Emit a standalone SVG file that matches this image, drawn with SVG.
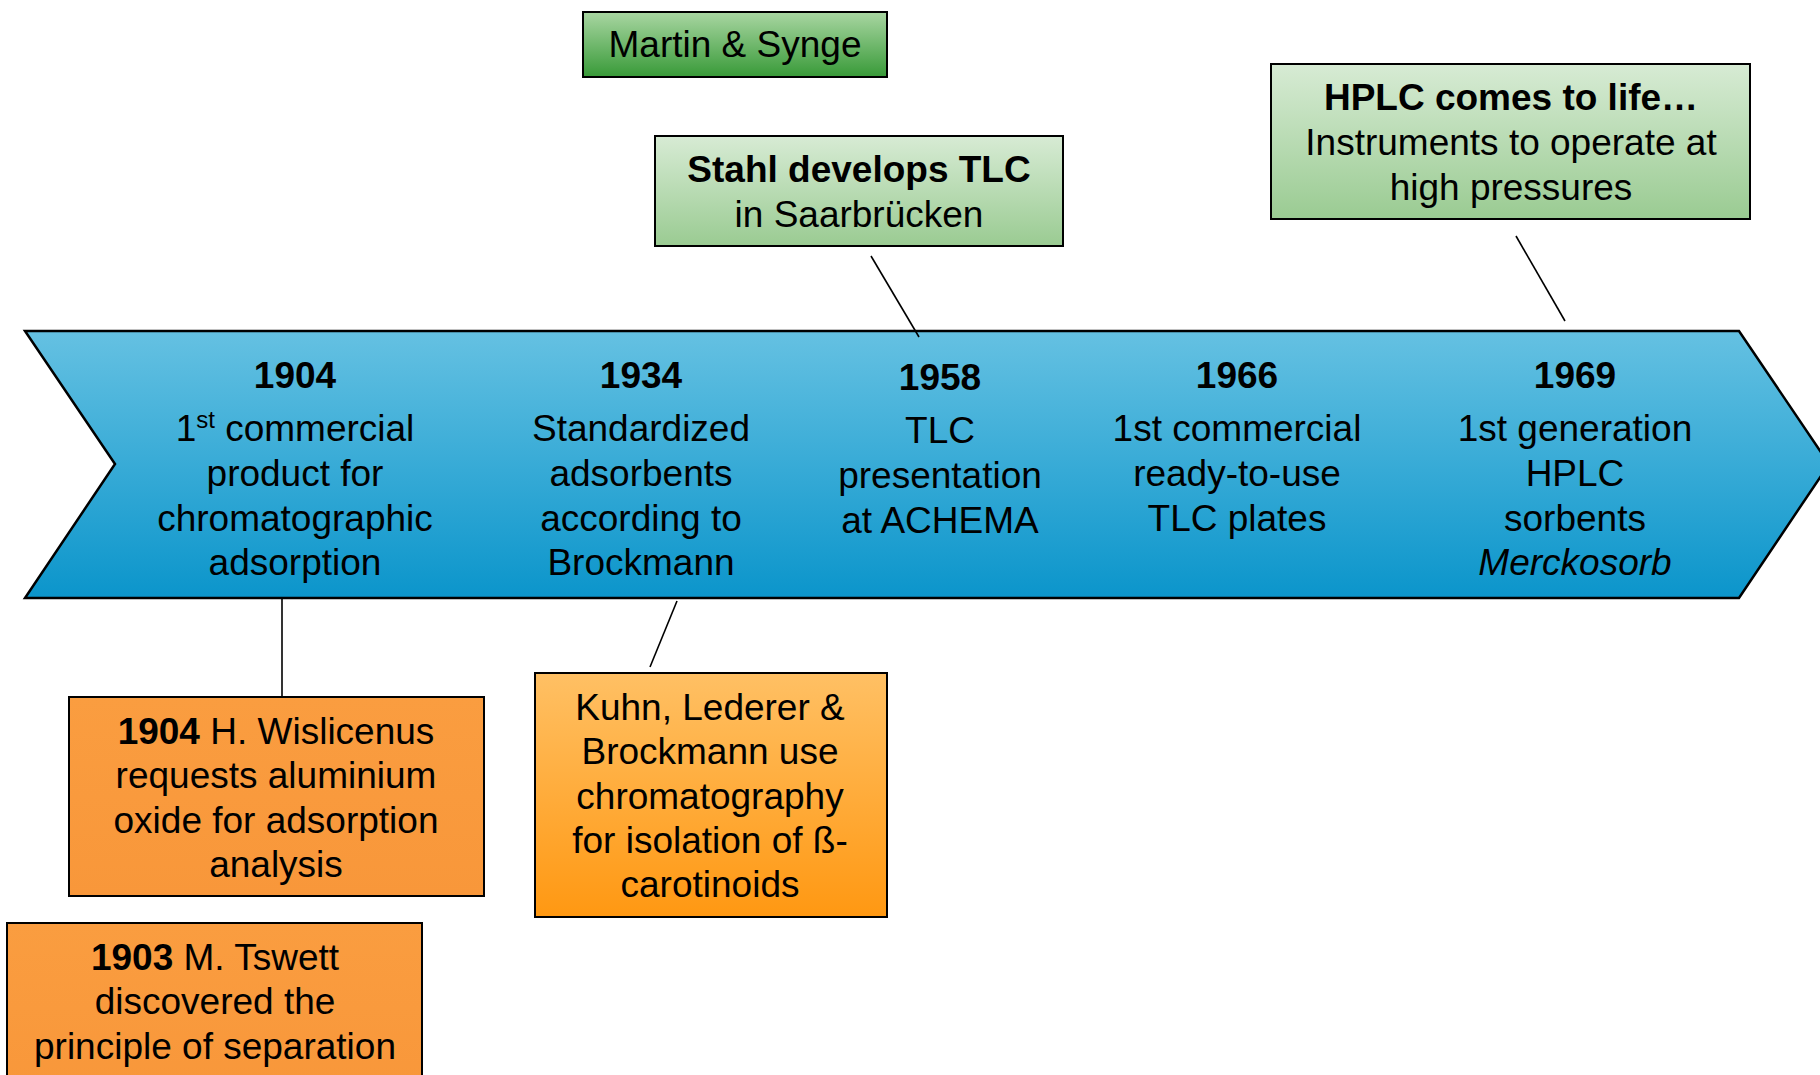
<svg xmlns="http://www.w3.org/2000/svg" width="1820" height="1075" viewBox="0 0 1820 1075">
<defs>
<linearGradient id="gBlue" x1="0" y1="0" x2="0" y2="1"><stop offset="0" stop-color="#65C1E2"/><stop offset="1" stop-color="#0B95CB"/></linearGradient>
<linearGradient id="gDark" x1="0" y1="0" x2="0" y2="1"><stop offset="0" stop-color="#A9D6A2"/><stop offset="1" stop-color="#389A38"/></linearGradient>
<linearGradient id="gLight" x1="0" y1="0" x2="0" y2="1"><stop offset="0" stop-color="#D7EBD4"/><stop offset="1" stop-color="#9ACB92"/></linearGradient>
<linearGradient id="gOr" x1="0" y1="0" x2="0" y2="1"><stop offset="0" stop-color="#FA9D40"/><stop offset="1" stop-color="#F8973A"/></linearGradient>
<linearGradient id="gOr2" x1="0" y1="0" x2="0" y2="1"><stop offset="0" stop-color="#FFC064"/><stop offset="1" stop-color="#FF9812"/></linearGradient>
</defs>
<style>
text{font-family:"Liberation Sans",Arial,sans-serif;font-size:37px;fill:#000;text-anchor:middle}
.b{font-weight:bold}
.box{stroke:#000;stroke-width:2}
.ln{stroke:#000;stroke-width:1.6;fill:none}
</style>
<rect width="1820" height="1075" fill="#fff"/>
<g id="timeline">
<polygon points="25,331 1739,331 1829,464 1739,598 25,598 115,464" fill="url(#gBlue)" stroke="#000" stroke-width="2.5"/>
<text x="295" y="388" class="b">1904</text>
<text x="295" y="441">1<tspan font-size="24" dy="-13">st</tspan><tspan dy="13"> commercial</tspan></text>
<text x="295" y="486">product for</text>
<text x="295" y="531">chromatographic</text>
<text x="295" y="575">adsorption</text>
<text x="641" y="388" class="b">1934</text>
<text x="641" y="441">Standardized</text>
<text x="641" y="486">adsorbents</text>
<text x="641" y="531">according to</text>
<text x="641" y="575">Brockmann</text>
<text x="940" y="390" class="b">1958</text>
<text x="940" y="443">TLC</text>
<text x="940" y="488">presentation</text>
<text x="940" y="533">at ACHEMA</text>
<text x="1237" y="388" class="b">1966</text>
<text x="1237" y="441">1st commercial</text>
<text x="1237" y="486">ready-to-use</text>
<text x="1237" y="531">TLC plates</text>
<text x="1575" y="388" class="b">1969</text>
<text x="1575" y="441">1st generation</text>
<text x="1575" y="486">HPLC</text>
<text x="1575" y="531">sorbents</text>
<text x="1575" y="575" font-style="italic">Merckosorb</text>
</g>
<g id="connectors">
<line class="ln" x1="282" y1="598" x2="282" y2="697"/>
<line class="ln" x1="677" y1="601" x2="650" y2="667"/>
<line class="ln" x1="871" y1="256" x2="919" y2="337"/>
<line class="ln" x1="1516" y1="236" x2="1565" y2="321"/>
</g>
<g id="martin-synge">
<rect class="box" x="583" y="12" width="304" height="65" fill="url(#gDark)"/>
<text x="735" y="57">Martin &amp; Synge</text>
</g>
<g id="stahl">
<rect class="box" x="655" y="136" width="408" height="110" fill="url(#gLight)"/>
<text x="859" y="182" class="b">Stahl develops TLC</text>
<text x="859" y="227">in Saarbrücken</text>
</g>
<g id="hplc">
<rect class="box" x="1271" y="64" width="479" height="155" fill="url(#gLight)"/>
<text x="1511" y="110" class="b">HPLC comes to life…</text>
<text x="1511" y="155">Instruments to operate at</text>
<text x="1511" y="200">high pressures</text>
</g>
<g id="wislicenus">
<rect class="box" x="69" y="697" width="415" height="199" fill="url(#gOr)"/>
<text x="276" y="744"><tspan class="b">1904</tspan> H. Wislicenus</text>
<text x="276" y="788">requests aluminium</text>
<text x="276" y="833">oxide for adsorption</text>
<text x="276" y="877">analysis</text>
</g>
<g id="kuhn">
<rect class="box" x="535" y="673" width="352" height="244" fill="url(#gOr2)"/>
<text x="710" y="720">Kuhn, Lederer &amp;</text>
<text x="710" y="764">Brockmann use</text>
<text x="710" y="809">chromatography</text>
<text x="710" y="853">for isolation of ß-</text>
<text x="710" y="897">carotinoids</text>
</g>
<g id="tswett">
<rect class="box" x="7" y="923" width="415" height="170" fill="url(#gOr)"/>
<text x="215" y="970"><tspan class="b">1903</tspan> M. Tswett</text>
<text x="215" y="1014">discovered the</text>
<text x="215" y="1059">principle of separation</text>
</g>
</svg>
